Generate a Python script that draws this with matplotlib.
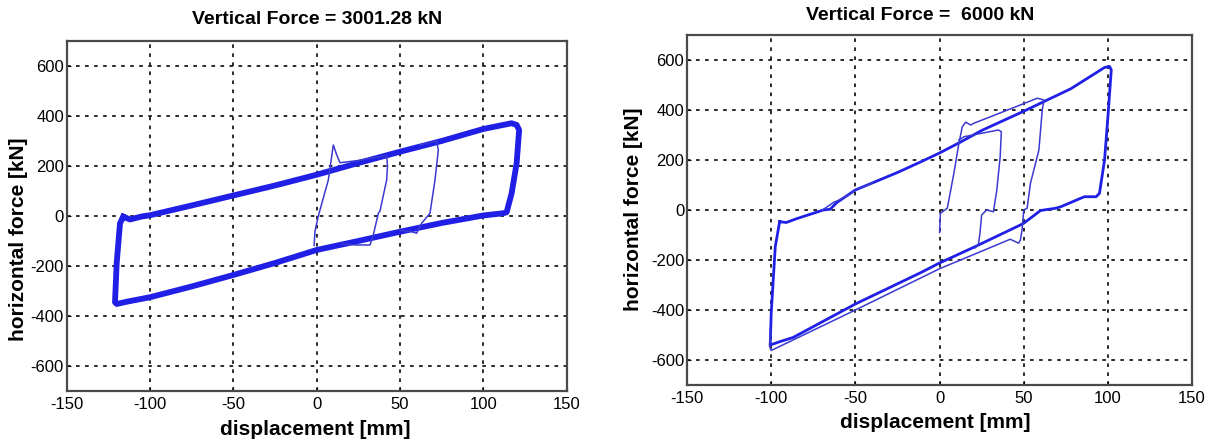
import matplotlib.pyplot as plt

plt.rcParams['font.family'] = ['Liberation Sans', 'DejaVu Sans']
plt.rcParams['axes.unicode_minus'] = False

# ---------------- data ----------------
xticks = [-150, -100, -50, 0, 50, 100, 150]
yticks = [-600, -400, -200, 0, 200, 400, 600]

# left plot: vertical force 3001.28 kN
left_title = 'Vertical Force = 3001.28 kN'
# repeated big cycles (+-120 mm) drawn as one thick band
left_loop_d = [-116, -112, -105, -100, -75, -50, -25, 0, 25, 50, 75, 100, 117, 120,
               121.5, 120, 117, 114, 112, 100, 75, 50, 25, 0, -25, -50, -75, -100,
               -114, -120, -121, -120, -118, -116]
left_loop_f = [-3, -14, -2, 3, 42, 82, 122, 165, 212, 257, 300, 348, 371, 364,
               344, 211, 91, 15, 11, 2, -28, -63, -100, -136, -188, -236, -282, -325,
               -343, -352, -345, -189, -29, -3]
# first small cycles near the origin
left_cyc1_d = [-1.5, -1, 1, 7, 10, 12, 14, 25, 42, 42.5, 42, 38, 37, 34, 32, 24, 15]
left_cyc1_f = [-118, -60, 0, 144, 284, 245, 213, 222, 242, 200, 144, 20, 11, -76, -116, -116, -112]
left_cyc2_d = [62, 72, 73, 71, 68, 63, 60, 57, 50]
left_cyc2_f = [285, 300, 264, 144, 11, -29, -69, -63, -58]

# right plot: vertical force 6000 kN
right_title = 'Vertical Force =  6000 kN'
right_loop_d = [-95, -91, -85, -69, -65, -61, -50, -25, -11, 0, 12, 25, 50, 78, 98, 101,
                102, 100, 98, 95, 93, 86, 72, 69, 60, 50, 48, 21, 0, -11, -50, -87, -95,
                -100.6, -100, -97.6, -95]
right_loop_f = [-47, -50, -35, 0, 3, 30, 80, 150, 193, 228, 270, 318, 395, 485, 570, 574,
                560, 373, 200, 67, 53, 53, 13, 7, -2, -53, -60, -147, -212, -250, -376, -510, -527,
                -540, -413, -147, -47]
# cycles to 62 mm, first reversal and the lower offset branch
right_cyc1_d = [0, 0.5, 4.6, 8.5, 11.5, 13.5, 15.5, 18.5, 20.4, 48, 58, 62, 61, 59, 54, 52,
                50, 49, 48, 47, 42, 0, -50, -100, -101, -100.5]
right_cyc1_f = [-90, -13, 7, 147, 267, 333, 351, 340, 347, 420, 447, 440, 400, 240, 107, 7,
                0, -80, -120, -133, -117, -235, -400, -562, -545, -480]
# cycle to 36 mm
right_cyc2_d = [11.5, 14.5, 35, 36.7, 36, 34, 32, 28, 25, 24, 23, 21]
right_cyc2_f = [280, 293, 320, 313, 213, 80, -7, 0, -20, -93, -140, -152]
# small kink on the upper branch
right_cyc3_d = [-70, -63, -58, -50, -40]
right_cyc3_f = [-2, 30, 45, 78, 108]

# ---------------- figure ----------------
fig = plt.figure(figsize=(12.1, 4.41), dpi=100)
ax1 = fig.add_axes([0.0551, 0.1134, 0.4132, 0.7937])
ax2 = fig.add_axes([0.5678, 0.127, 0.4174, 0.7937])

blue = '#1f1fe6'
thin = '#3a3ad2'


def style_axes(ax):
    ax.set_xlim(-150, 150)
    ax.set_ylim(-700, 700)
    ax.set_xticks(xticks)
    ax.set_yticks(yticks)
    ax.tick_params(direction='in', length=3, labelsize=12, pad=4)
    ax.tick_params(axis='y', pad=2)
    ax.grid(True, color='#1a1a1a', linestyle=(0, (2, 3)), linewidth=1.3)
    ax.set_axisbelow(True)
    for s in ax.spines.values():
        s.set_color('#4a4a4a')
        s.set_linewidth(1.6)
    ax.set_xlabel('displacement [mm]', fontsize=15, fontweight='bold')
    ax.set_ylabel('horizontal force [kN]', fontsize=15, fontweight='bold')


# left
style_axes(ax1)
ax1.plot(left_loop_d, left_loop_f, color=blue, lw=4.2, solid_joinstyle='round')
ax1.plot(left_cyc1_d, left_cyc1_f, color=thin, lw=1.1)
ax1.plot(left_cyc2_d, left_cyc2_f, color=thin, lw=1.1)
ax1.text(0.5, 1.06, left_title, transform=ax1.transAxes, ha='center', va='center',
         fontsize=14, fontweight='bold')
ax1.xaxis.set_label_coords(0.497, -0.083)
ax1.yaxis.set_label_coords(-0.077, 0.434)

# right
style_axes(ax2)
ax2.plot(right_loop_d, right_loop_f, color=blue, lw=2.0, solid_joinstyle='round')
ax2.plot(right_cyc1_d, right_cyc1_f, color=thin, lw=1.1)
ax2.plot(right_cyc2_d, right_cyc2_f, color=thin, lw=1.1)
ax2.plot(right_cyc3_d, right_cyc3_f, color=thin, lw=1.1)
ax2.text(0.461, 1.057, right_title, transform=ax2.transAxes, ha='center', va='center',
         fontsize=14, fontweight='bold')
ax2.xaxis.set_label_coords(0.491, -0.08)
ax2.yaxis.set_label_coords(-0.087, 0.503)

fig.savefig('out.png', dpi=100)
